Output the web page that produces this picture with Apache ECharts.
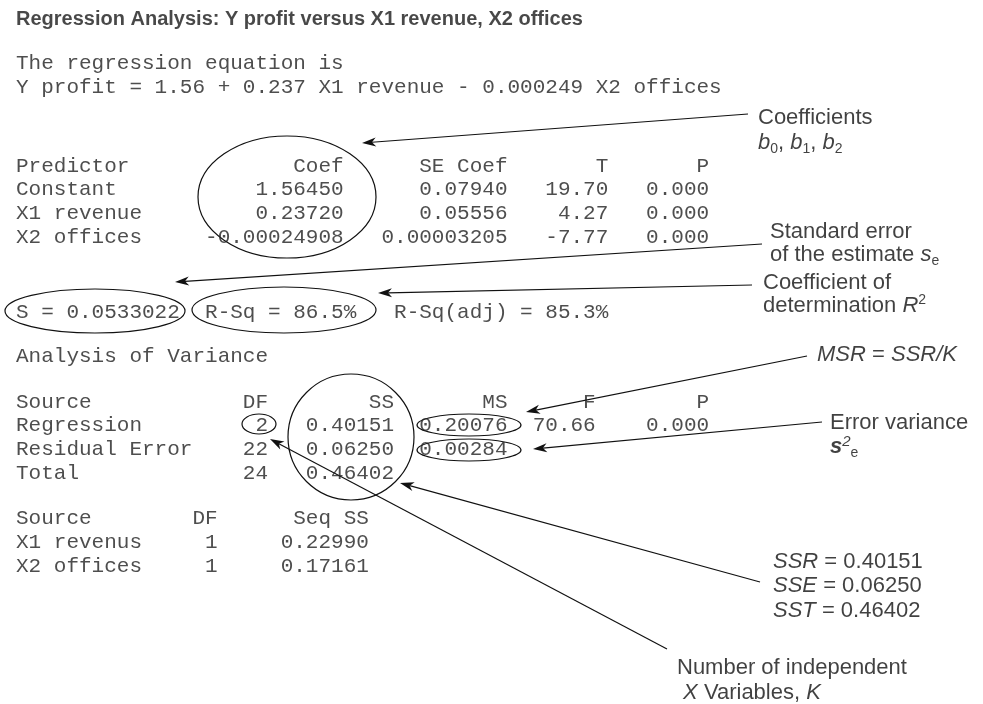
<!DOCTYPE html>
<html><head><meta charset="utf-8">
<script src="https://cdn.jsdelivr.net/npm/echarts@6/dist/echarts.min.js"></script>
<style>html,body{margin:0;padding:0;background:#fff}#c{width:983px;height:704px}</style>
</head><body><div id="c"></div>
<script>
// ---------------- data ----------------
const titleText = 'Regression Analysis: Y profit versus X1 revenue, X2 offices';
const equationIntro = 'The regression equation is';
const equationText = 'Y profit = 1.56 + 0.237 X1 revenue - 0.000249 X2 offices';
const predHeader = ['Predictor', 'Coef', 'SE Coef', 'T', 'P'];
const predictors = ['Constant', 'X1 revenue', 'X2 offices'];
const coef = ['1.56450', '0.23720', '-0.00024908'];
const seCoef = ['0.07940', '0.05556', '0.00003205'];
const tStat = ['19.70', '4.27', '-7.77'];
const pValue = ['0.000', '0.000', '0.000'];
const fitStats = ['S = 0.0533022', 'R-Sq = 86.5%', 'R-Sq(adj) = 85.3%'];
const anovaTitle = 'Analysis of Variance';
const anovaHeader = ['Source', 'DF', 'SS', 'MS', 'F', 'P'];
const anovaSource = ['Regression', 'Residual Error', 'Total'];
const anovaDF = ['2', '22', '24'];
const anovaSS = ['0.40151', '0.06250', '0.46402'];
const anovaMS = ['0.20076', '0.00284', ''];
const anovaF = ['70.66', '', ''];
const anovaP = ['0.000', '', ''];
const seqHeader = ['Source', 'DF', 'Seq SS'];
const seqSource = ['X1 revenus', 'X2 offices'];
const seqDF = ['1', '1'];
const seqSS = ['0.22990', '0.17161'];
const noteTexts = [
  'Coefficients',
  '{i|b}{sub|0}, {i|b}{sub|1}, {i|b}{sub|2}',
  'Standard error',
  'of the estimate {i|s}{sub|e}',
  'Coefficient of',
  'determination {i|R}{sup|2}',
  '{i|MSR} = {i|SSR/K}',
  'Error variance',
  '{bi|s}{isup|2}{sub|e}',
  '{i|SSR} = 0.40151',
  '{i|SSE} = 0.06250',
  '{i|SST} = 0.46402',
  'Number of independent',
  ' {i|X} Variables, {i|K}'
];

// ---------------- layout ----------------
const X0 = 16;
const predEnds = [26, 39, 47, 55];
const anovaEnds = [20, 30, 39, 46, 55];
const seqEnds = [16, 28];
const fitStarts = [0, 15, 30];
const rowY = {
  title: 19, eq: [63, 87], pred: [166, 189, 213, 237], fit: 312,
  anovaTitle: 356, anova: [402, 425, 449, 473], seq: [518, 542, 566]
};
const notePos = [
  [758, 118], [758, 143], [770, 232], [770, 255], [763, 283], [763, 306],
  [817, 355], [830, 423], [830, 447], [773, 562], [773, 586], [773, 611],
  [677, 668], [677, 693]
];
// ellipses: cx, cy, rx, ry
const ellipses = [
  [287, 197, 89, 61], [95, 311, 90, 22], [284, 310, 92, 23],
  [259, 424, 17, 10], [351, 437, 63, 63], [469, 425, 52, 11], [469, 450, 52, 11]
];
// arrows: from (x1,y1) to tip (x2,y2)
const arrows = [
  [748, 114, 362, 143], [762, 244, 175, 282], [752, 285, 378, 293],
  [807, 356, 526, 412], [822, 422, 533, 449], [760, 582, 400, 483],
  [667, 649, 270, 439]
];

const MONO = "'Liberation Mono', 'Courier New', monospace";
const SANS = "'Liberation Sans', Arial, Helvetica, sans-serif";

function buildRow(cells, ends) {
  let s = cells[0];
  for (let i = 1; i < cells.length; i++) {
    const c = cells[i];
    if (!c) continue;
    s = s.padEnd(ends[i - 1] - c.length, ' ') + c;
  }
  return s;
}
function buildStarts(cells, starts) {
  let s = '';
  cells.forEach((c, i) => { s = s.padEnd(starts[i], ' ') + c; });
  return s;
}

const monoLines = [];
monoLines.push([rowY.eq[0], equationIntro]);
monoLines.push([rowY.eq[1], equationText]);
monoLines.push([rowY.pred[0], buildRow(predHeader, predEnds)]);
predictors.forEach((p, i) => monoLines.push([rowY.pred[i + 1], buildRow([p, coef[i], seCoef[i], tStat[i], pValue[i]], predEnds)]));
monoLines.push([rowY.fit, buildStarts(fitStats, fitStarts)]);
monoLines.push([rowY.anovaTitle, anovaTitle]);
monoLines.push([rowY.anova[0], buildRow(anovaHeader, anovaEnds)]);
anovaSource.forEach((s, i) => monoLines.push([rowY.anova[i + 1], buildRow([s, anovaDF[i], anovaSS[i], anovaMS[i], anovaF[i], anovaP[i]], anovaEnds)]));
monoLines.push([rowY.seq[0], buildRow(seqHeader, seqEnds)]);
seqSource.forEach((s, i) => monoLines.push([rowY.seq[i + 1], buildRow([s, seqDF[i], seqSS[i]], seqEnds)]));

const ink = '#111';
const rich = {
  i: { fontStyle: 'italic', fontSize: 22, fontFamily: SANS, color: ink },
  bi: { fontStyle: 'italic', fontWeight: 'bold', fontSize: 22, fontFamily: SANS, color: ink },
  sub: { fontSize: 14, fontFamily: SANS, color: ink, verticalAlign: 'bottom', lineHeight: 26 },
  sup: { fontSize: 14, fontFamily: SANS, color: ink, verticalAlign: 'top', lineHeight: 26 },
  isup: { fontSize: 15, fontStyle: 'italic', fontFamily: SANS, color: ink, verticalAlign: 'top', lineHeight: 26 }
};

const chart = echarts.init(document.getElementById('c'));
chart.setOption({
  animation: false,
  backgroundColor: '#fff',
  grid: { left: 0, right: 0, top: 0, bottom: 0 },
  xAxis: { type: 'value', min: 0, max: 983, show: false },
  yAxis: { type: 'value', min: 0, max: 704, inverse: true, show: false },
  series: [
    {
      type: 'scatter', symbolSize: 0, silent: true, emphasis: { disabled: true },
      data: [{ value: [X0, rowY.title] }],
      label: { show: true, position: 'inside', align: 'left', verticalAlign: 'middle',
        formatter: () => titleText, fontFamily: SANS, fontWeight: 'bold', fontSize: 20, color: '#1a1a1a' }
    },
    {
      type: 'scatter', symbolSize: 0, silent: true, emphasis: { disabled: true },
      data: monoLines.map(([y, s]) => ({ value: [X0, y], label: { formatter: () => s } })),
      label: { show: true, position: 'inside', align: 'left', verticalAlign: 'middle',
        fontFamily: MONO, fontSize: 21, color: '#222' }
    },
    {
      type: 'scatter', symbolSize: 0, silent: true, emphasis: { disabled: true },
      data: noteTexts.map((t, i) => ({ value: notePos[i], label: { formatter: () => t } })),
      label: { show: true, position: 'inside', align: 'left', verticalAlign: 'middle',
        fontFamily: SANS, fontSize: 22, color: ink, lineHeight: 26, rich: rich }
    },
    {
      type: 'custom', coordinateSystem: 'cartesian2d', silent: true,
      data: ellipses,
      renderItem: (params, api) => {
        const c = api.coord([api.value(0), api.value(1)]);
        const s = api.size([api.value(2), api.value(3)]);
        return { type: 'ellipse', shape: { cx: c[0], cy: c[1], rx: Math.abs(s[0]), ry: Math.abs(s[1]) },
          style: { fill: 'none', stroke: ink, lineWidth: 1.2 } };
      }
    },
    {
      type: 'custom', coordinateSystem: 'cartesian2d', silent: true,
      data: arrows,
      renderItem: (params, api) => {
        const a = api.coord([api.value(0), api.value(1)]);
        const b = api.coord([api.value(2), api.value(3)]);
        const dx = b[0] - a[0], dy = b[1] - a[1];
        const len = Math.sqrt(dx * dx + dy * dy);
        const ux = dx / len, uy = dy / len, px = -uy, py = ux;
        const L = 14, W = 4.5, N = 10;
        const pts = [
          b,
          [b[0] - ux * L + px * W, b[1] - uy * L + py * W],
          [b[0] - ux * N, b[1] - uy * N],
          [b[0] - ux * L - px * W, b[1] - uy * L - py * W]
        ];
        return { type: 'group', children: [
          { type: 'line', shape: { x1: a[0], y1: a[1], x2: b[0] - ux * N, y2: b[1] - uy * N },
            style: { stroke: ink, lineWidth: 1.2 } },
          { type: 'polygon', shape: { points: pts }, style: { fill: ink } }
        ] };
      }
    }
  ]
});
</script></body></html>
